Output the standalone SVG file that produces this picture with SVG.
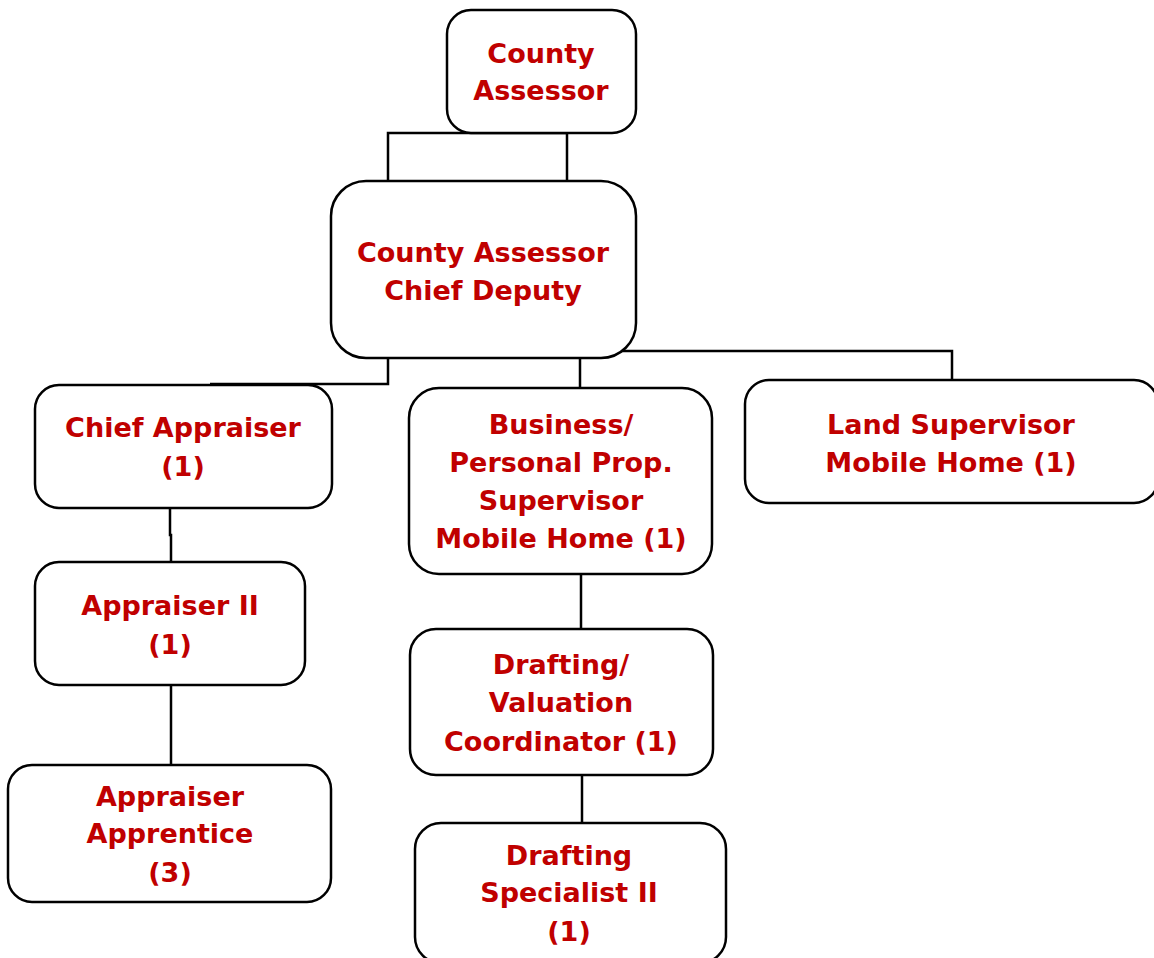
<svg xmlns="http://www.w3.org/2000/svg" width="1154" height="958" viewBox="0 0 1154 958">
<style>
.box{fill:#fff;stroke:#000;stroke-width:2.5}
.lbl{font-family:"DejaVu Sans",Verdana,sans-serif;font-weight:bold;font-size:27px;fill:#C00000;text-anchor:middle}
.con{fill:none;stroke:#000;stroke-width:2.5}
</style>
<rect width="1154" height="958" fill="#fff"/>
<g id="connectors">
<path class="con" d="M388,181 V133 H567 V181"/>
<path class="con" d="M388,358 V384 H210"/>
<path class="con" d="M580,358 V388"/>
<path class="con" d="M620,351 H952 V380"/>
<path class="con" d="M170,508 V535 H171 V562"/>
<path class="con" d="M171,685 V765"/>
<path class="con" d="M581,574 V629"/>
<path class="con" d="M582,775 V823"/>
</g>
<g id="county-assessor">
<rect class="box" x="447" y="10" width="189" height="123" rx="24"/>
<text class="lbl" x="541" y="63">County</text>
<text class="lbl" x="541" y="100">Assessor</text>
</g>
<g id="chief-deputy">
<rect class="box" x="331" y="181" width="305" height="177" rx="35"/>
<text class="lbl" x="483" y="262">County Assessor</text>
<text class="lbl" x="483" y="300">Chief Deputy</text>
</g>
<g id="chief-appraiser">
<rect class="box" x="35" y="385" width="297" height="123" rx="24"/>
<text class="lbl" x="183" y="437">Chief Appraiser</text>
<text class="lbl" x="183" y="476">(1)</text>
</g>
<g id="appraiser-ii">
<rect class="box" x="35" y="562" width="270" height="123" rx="24"/>
<text class="lbl" x="170" y="615">Appraiser II</text>
<text class="lbl" x="170" y="654">(1)</text>
</g>
<g id="appraiser-apprentice">
<rect class="box" x="8" y="765" width="323" height="137" rx="24"/>
<text class="lbl" x="170" y="806">Appraiser</text>
<text class="lbl" x="170" y="843">Apprentice</text>
<text class="lbl" x="170" y="882">(3)</text>
</g>
<g id="business-personal">
<rect class="box" x="409" y="388" width="303" height="186" rx="30"/>
<text class="lbl" x="561" y="434">Business/</text>
<text class="lbl" x="561" y="472">Personal Prop.</text>
<text class="lbl" x="561" y="510">Supervisor</text>
<text class="lbl" x="561" y="548">Mobile Home (1)</text>
</g>
<g id="land-supervisor">
<rect class="box" x="745" y="380" width="413" height="123" rx="24"/>
<text class="lbl" x="951" y="434">Land Supervisor</text>
<text class="lbl" x="951" y="472">Mobile Home (1)</text>
</g>
<g id="drafting-valuation">
<rect class="box" x="410" y="629" width="303" height="146" rx="26"/>
<text class="lbl" x="561" y="674">Drafting/</text>
<text class="lbl" x="561" y="712">Valuation</text>
<text class="lbl" x="561" y="751">Coordinator (1)</text>
</g>
<g id="drafting-specialist">
<rect class="box" x="415" y="823" width="311" height="140" rx="26"/>
<text class="lbl" x="569" y="865">Drafting</text>
<text class="lbl" x="569" y="902">Specialist II</text>
<text class="lbl" x="569" y="941">(1)</text>
</g>
</svg>
